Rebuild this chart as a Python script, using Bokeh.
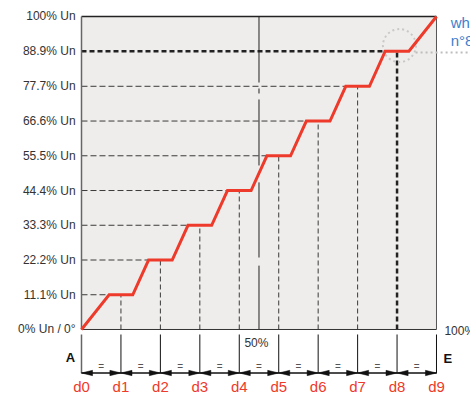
from bokeh.plotting import figure
from bokeh.models import Range1d
from bokeh.core.properties import value
from bokeh.embed import file_html
from bokeh.resources import INLINE

# ---- data ----
levels = [0, 11.1, 22.2, 33.3, 44.4, 55.5, 66.6, 77.7, 88.9, 100]
level_labels = ["0% Un / 0°", "11.1% Un", "22.2% Un", "33.3% Un", "44.4% Un",
                "55.5% Un", "66.6% Un", "77.7% Un", "88.9% Un", "100% Un"]
d_pos = [0, 1, 2, 3, 4, 5, 6, 7, 8, 9]
d_labels = ["d0", "d1", "d2", "d3", "d4", "d5", "d6", "d7", "d8", "d9"]
red_x = [0, 0.7, 1.3, 1.7, 2.3, 2.7, 3.3, 3.7, 4.3, 4.7, 5.3, 5.7, 6.3, 6.7, 7.3, 7.7, 8.3, 9]
red_y = [0, 11.1, 11.1, 22.2, 22.2, 33.3, 33.3, 44.4, 44.4, 55.5, 55.5, 66.6, 66.6, 77.7, 77.7, 88.9, 88.9, 100]
half_flat = 0.3
mid_line_x = 4.5
mid_segments_y0 = [0, 23.0, 52.4, 75.4, 78.9]
mid_segments_y1 = [20.4, 47.0, 73.5, 77.0, 100]

FONT = value("Liberation Sans")
RED = "#ee3a2a"
BG = "#eeedeb"

p = figure(width=470, height=394, output_backend="svg", toolbar_location=None,
           x_axis_type=None, y_axis_type=None, min_border=0,
           x_range=Range1d(-2.0535, 9.862), y_range=Range1d(-20.77, 105.11))
p.outline_line_color = None
p.background_fill_color = "white"
p.border_fill_color = "white"
p.grid.visible = False

# plot area background
p.quad(left=[d_pos[0]], right=[d_pos[-1]], bottom=[levels[0]], top=[levels[-1]],
       fill_color=BG, line_color=None)

# thin dashed horizontal / vertical guide lines (levels 1..7)
hx0, hx1, hy, vx, vy0, vy1 = [], [], [], [], [], []
for k in range(1, 8):
    hx0.append(d_pos[0]); hx1.append(d_pos[k] - half_flat); hy.append(levels[k])
    vx.append(d_pos[k]); vy0.append(levels[0]); vy1.append(levels[k])
p.segment(x0=hx0, y0=hy, x1=hx1, y1=hy, line_color="#3a3a3a", line_width=1, line_dash="6 3")
p.segment(x0=vx, y0=vy0, x1=vx, y1=vy1, line_color="#3a3a3a", line_width=1, line_dash="5 3")

# bold dashed lines at level 8
p.segment(x0=[d_pos[0]], y0=[levels[8]], x1=[d_pos[8] - half_flat], y1=[levels[8]],
          line_color="#222222", line_width=2.5, line_dash="5 3")
p.segment(x0=[d_pos[8]], y0=[levels[0]], x1=[d_pos[8]], y1=[levels[8]],
          line_color="#222222", line_width=2.5, line_dash="5 3")

# 50% vertical line
p.segment(x0=[mid_line_x] * len(mid_segments_y0), y0=mid_segments_y0,
          x1=[mid_line_x] * len(mid_segments_y0), y1=mid_segments_y1,
          line_color="#222222", line_width=1)

# frame borders
p.segment(x0=[d_pos[0]], y0=[levels[-1]], x1=[d_pos[-1]], y1=[levels[-1]], line_color="#222222", line_width=1.5)
p.segment(x0=[d_pos[0]], y0=[levels[0]], x1=[d_pos[-1]], y1=[levels[0]], line_color="#333333", line_width=1)
p.segment(x0=[d_pos[0]], y0=[levels[0]], x1=[d_pos[0]], y1=[levels[-1]], line_color="#666666", line_width=1.5)
p.segment(x0=[d_pos[-1]], y0=[levels[0]], x1=[d_pos[-1]], y1=[levels[-1]], line_color="#555555", line_width=1)

# annotation circle + dotted pointer
p.scatter(x=[8.06], y=[90.7], size=33, marker="circle", fill_color=None,
          line_color="#c8c8c8", line_width=2, line_dash="2 3")
p.segment(x0=[8.47], y0=[88.5], x1=[10.0], y1=[88.5], line_color="#bdbdbd", line_width=2, line_dash="2 3")

# red step curve
p.line(red_x, red_y, line_color=RED, line_width=3, line_join="miter")

# y labels
p.text(x=[-0.15] * len(levels), y=levels, text=level_labels, text_font=FONT,
       text_font_size="12px", text_color="#333333", text_align="right", text_baseline="middle")

# lower band: tick lines
band_top, band_bot = -1.6, -14.0
p.segment(x0=d_pos[1:], y0=[band_top] * 9, x1=d_pos[1:], y1=[band_bot] * 9, line_color="#111111", line_width=1)
p.segment(x0=[d_pos[0]], y0=[band_top], x1=[d_pos[0]], y1=[band_bot], line_color="#666666", line_width=1.5)

# double arrows
arrow_y = -13.9
p.segment(x0=d_pos[:-1], y0=[arrow_y] * 9, x1=d_pos[1:], y1=[arrow_y] * 9, line_color="#111111", line_width=1.3)
head_len, head_h = 0.28, 0.85
xs, ys = [], []
for a, b in zip(d_pos[:-1], d_pos[1:]):
    xs.append([a, a + head_len, a + head_len]); ys.append([arrow_y, arrow_y + head_h, arrow_y - head_h])
    xs.append([b, b - head_len, b - head_len]); ys.append([arrow_y, arrow_y + head_h, arrow_y - head_h])
p.patches(xs, ys, fill_color="#111111", line_color="#111111", line_width=0.5)

mids = [(a + b) / 2 for a, b in zip(d_pos[:-1], d_pos[1:])]
p.text(x=mids, y=[-11.8] * 9, text=["="] * 9, text_font=FONT, text_font_size="10px",
       text_color="#555555", text_align="center", text_baseline="middle")

# d labels
p.text(x=d_pos, y=[-18.3] * 10, text=d_labels, text_font=FONT, text_font_size="15px",
       text_color=RED, text_align="center", text_baseline="middle")

# other texts
p.text(x=[-0.28], y=[-8.9], text=["A"], text_font=FONT, text_font_size="13px", text_font_style="bold",
       text_color="#111111", text_align="center", text_baseline="middle")
p.text(x=[9.18], y=[-9.3], text=["E"], text_font=FONT, text_font_size="13px", text_font_style="bold",
       text_color="#111111", text_align="left", text_baseline="middle")
p.text(x=[4.13], y=[-4.2], text=["50%"], text_font=FONT, text_font_size="12px",
       text_color="#333333", text_align="left", text_baseline="middle")
p.text(x=[9.2], y=[-0.4], text=["100%"], text_font=FONT, text_font_size="12px",
       text_color="#333333", text_align="left", text_baseline="middle")
p.text(x=[9.36, 9.36], y=[98.1, 92.3], text=["wh", "n°8"], text_font=FONT, text_font_size="15px",
       text_color="#3d7fcc", text_align="left", text_baseline="middle")

open("out.html", "w").write(file_html(p, INLINE))
